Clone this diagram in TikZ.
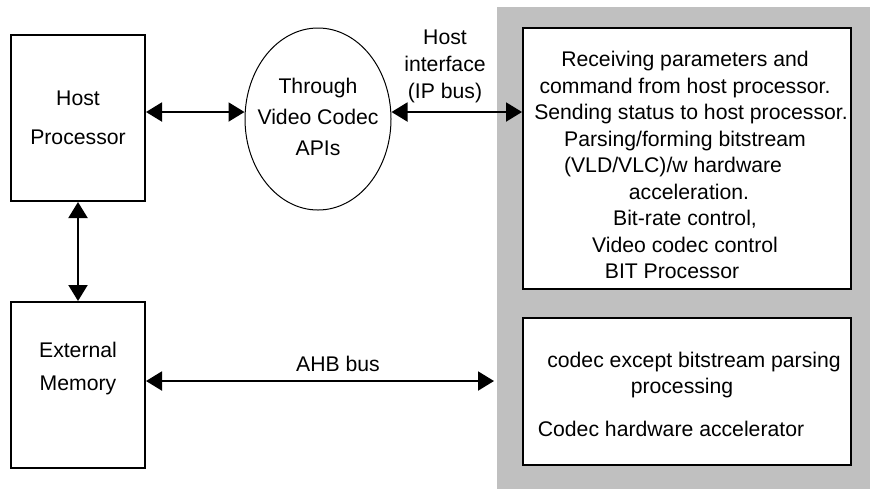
\documentclass[tikz,border=0pt]{standalone}
\usepackage{fontspec}
\setmainfont{Liberation Sans}
\usepackage{tikz}
\usetikzlibrary{arrows.meta, positioning, shapes.geometric}
\definecolor{chipgray}{RGB}{192, 192, 192}

\begin{document}
\begin{tikzpicture}[
  x=0.5pt, y=-0.5pt,
  block/.style={
    rectangle, draw=black, line width=1pt, fill=white,
    minimum width=#1, inner sep=0pt
  },
  txt/.style={font=\fontsize{10.6}{13.25}\selectfont, align=center, inner sep=0pt},
  bus/.style={{Triangle[length=8pt, width=9.5pt]}-{Triangle[length=8pt, width=9.5pt]}, line width=1pt},
]

\useasboundingbox (0,0) rectangle (870,489);

% chip area
\node[rectangle, fill=chipgray, minimum width=186.5pt, minimum height=241pt,
  inner sep=0pt, anchor=north west] (chip) at (497,7) {};

% host side
\node[block=67pt, minimum height=83pt] (host) at (78,118) {};
\node[txt, font=\fontsize{10.6}{19.5}\selectfont] (hostT) at (78,118) {Host\\Processor};

\node[block=67pt, minimum height=83pt] (mem) at (78,385) {};
\node[txt, font=\fontsize{10.6}{16.5}\selectfont] (memT) at (78,369) {External\\Memory};

% API ellipse
\node[ellipse, draw=black, line width=0.5pt, minimum width=73pt, minimum height=91pt,
  inner sep=0pt] (api) at (318,119) {};
\node[txt, font=\fontsize{10.6}{15.5}\selectfont] (apiT) at (318,117) {Through\\Video Codec\\APIs};

% BIT processor
\node[block=164pt, minimum height=130.5pt] (bit) at (687,158.5) {};
\node[txt] (bitT) at (685,165) {Receiving parameters and\\
  command from host processor.\\
  \hspace*{6pt}Sending status to host processor.\\
  Parsing/forming bitstream\\
  \hspace*{-12pt}(VLD/VLC)/w hardware\\
  \hspace*{4pt}acceleration.\\
  Bit-rate control,\\
  Video codec control\\
  \hspace*{-13pt}BIT Processor};

% codec accelerator
\node[block=164pt, minimum height=73.5pt] (codec) at (687,391.5) {};
\node[txt] (codecT) at (682,394) {\hspace*{12pt}codec except bitstream parsing\\
  processing\\[8pt]
  \hspace*{-11pt}Codec hardware accelerator};

% connections
\coordinate (hifY) at (0,112);
\draw[bus] (host.east |- hifY) -- (api.west |- hifY);
\draw[bus] (api.east |- hifY) -- (bit.west |- hifY);
\node[txt, font=\fontsize{10.6}{13.5}\selectfont] (hifT) at (445,66) {Host\\interface\\(IP bus)};

\draw[bus] (host.south) -- (mem.north);

\coordinate (ahbEnd) at (494,381);
\draw[bus] (mem.east |- ahbEnd) -- (ahbEnd);
\node[txt] (ahbT) at (338,364) {AHB bus};

\end{tikzpicture}
\end{document}
